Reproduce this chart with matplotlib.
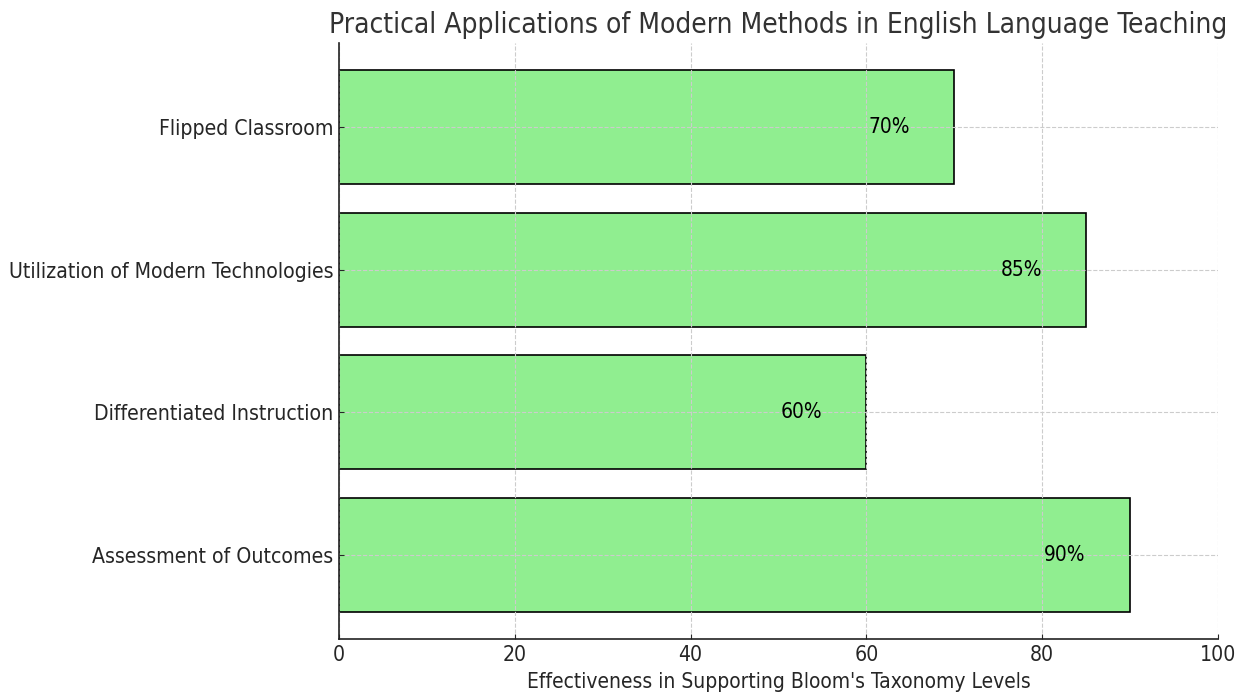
import matplotlib
matplotlib.use("Agg")
import matplotlib.pyplot as plt
from matplotlib import font_manager as fm

methods = ["Assessment of Outcomes", "Differentiated Instruction",
           "Utilization of Modern Technologies", "Flipped Classroom"]
effectiveness = [90, 60, 85, 70]
xticks = [0, 20, 40, 60, 80, 100]

fname = None
for f in fm.findSystemFonts():
    if "DejaVuSansCondensed.ttf" in f:
        fname = f
        break
if fname is None:
    for f in fm.findSystemFonts():
        if "LiberationSansNarrow-Regular" in f:
            fname = f
            break

def fp(size):
    if fname:
        return fm.FontProperties(fname=fname, size=size)
    return fm.FontProperties(family="DejaVu Sans", size=size)

fig = plt.figure(figsize=(12.47, 6.97), dpi=100)
ax = fig.add_axes([339/1247, 1-639/697, (1218-339)/1247, (639-43)/697])
bars = ax.barh(methods, effectiveness, color="lightgreen", edgecolor="black", height=0.8, linewidth=1.2)
for b, v in zip(bars, effectiveness):
    ax.text(v - 7.4, b.get_y() + b.get_height()/2, f"{v}%", ha="center", va="center",
            fontproperties=fp(15), color="black")
ax.set_xlim(0, 100)
ax.set_xticks(xticks)
ax.grid(True, linestyle="--", color="#cccccc", linewidth=0.8)
for s in ["top", "right"]:
    ax.spines[s].set_visible(False)
for s in ["left", "bottom"]:
    ax.spines[s].set_color("#222222")
    ax.spines[s].set_linewidth(1.2)
for lab in ax.get_xticklabels() + ax.get_yticklabels():
    lab.set_fontproperties(fp(15.2))
    lab.set_color("#262626")
ax.tick_params(colors="#262626", length=3.5, direction="in", pad=4)
ax.set_xlabel("Effectiveness in Supporting Bloom's Taxonomy Levels", fontproperties=fp(15), color="#262626", labelpad=5)
ax.set_title("Practical Applications of Modern Methods in English Language Teaching",
             fontproperties=fp(20.2), color="#333333", pad=7)
fig.savefig("out.png", dpi=100)
